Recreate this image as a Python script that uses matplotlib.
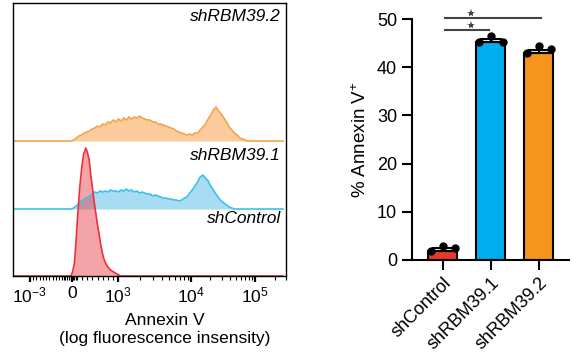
import numpy as np
import matplotlib
matplotlib.use("Agg")
import matplotlib.pyplot as plt
import matplotlib.transforms as mtransforms

plt.rcParams["font.family"] = ["Liberation Sans", "DejaVu Sans"]
plt.rcParams["mathtext.fontset"] = "custom"
plt.rcParams["mathtext.rm"] = "Liberation Sans"
plt.rcParams["mathtext.it"] = "Liberation Sans:italic"

# ---- histogram data (channel 0-1024, counts) ----
hist_x = [0, 220, 230, 240, 250, 260, 270, 280, 290, 300, 310, 320, 330, 340, 350,
          360, 370, 380, 390, 400, 410, 420, 430, 440, 450, 460, 470, 480, 490, 500,
          510, 520, 530, 540, 550, 560, 570, 580, 590, 600, 610, 620, 630, 640, 650,
          660, 670, 680, 690, 700, 710, 720, 730, 740, 750, 760, 770, 780, 790, 800,
          810, 820, 830, 840, 850, 860, 870, 880, 890, 900, 1024]
orange_y = [0, 0, 1, 3, 5, 6, 8, 9, 10, 12, 13, 15, 14, 17, 16,
            19, 18, 21, 19, 22, 20, 23, 21, 24, 22, 24, 23, 25, 23, 22,
            21, 21, 19, 19, 17, 17, 16, 15, 14, 13, 12, 10, 9, 8, 7,
            6, 7, 6, 8, 8, 11, 14, 17, 22, 26, 31, 34, 30, 27, 23,
            19, 14, 11, 8, 6, 3, 2, 1, 0, 0, 0]
blue_y = [0, 0, 1, 3, 6, 8, 10, 11, 13, 15, 17, 16, 18, 17, 18,
          17, 19, 18, 18, 17, 19, 18, 20, 18, 19, 17, 18, 16, 17, 16,
          15, 15, 13, 14, 13, 12, 11, 11, 10, 10, 9, 9, 8, 9, 11,
          12, 16, 19, 23, 27, 32, 34, 31, 28, 23, 19, 15, 11, 8, 6,
          4, 2, 1, 0, 0, 0, 0, 0, 0, 0, 0]
red_x = [0, 220, 227, 233, 239, 245, 253, 261, 268, 276, 282, 289, 295, 301, 308,
         314, 320, 326, 333, 339, 345, 351, 360, 370, 382, 395, 408, 1024]
red_y = [0, 0, 5, 13, 34, 59, 88, 109, 122, 128, 124, 116, 101, 89, 74,
         63, 52, 43, 31, 23, 17, 13, 9, 6, 4, 2, 0, 0]
offsets = [135, 67, 0]  # orange, blue, red baselines
hist_labels = ["shRBM39.2", "shRBM39.1", "shControl"]

tick_ch = [64, 225, 397, 675, 919]
tick_labels = [r"$10^{-3}$", "0", r"$10^{3}$", r"$10^{4}$", r"$10^{5}$"]

# ---- bar data ----
groups = ["shControl", "shRBM39.1", "shRBM39.2"]
bar_vals = [1.8, 45.2, 43.0]
bar_err = [0.6, 0.6, 0.6]
reps = [[1.9, 2.9, 2.4], [45.3, 46.5, 45.3], [42.9, 44.3, 43.7]]
rep_dx = [-0.25, 0.0, 0.26]
bar_colors = ["#e8392c", "#00aeef", "#f7941d"]

fig = plt.figure(figsize=(5.82, 3.6), dpi=100)

# ---------------- histogram ----------------
ax1 = fig.add_axes([0.0223, 0.2333, 0.4691, 0.7583])
ax1.fill_between(hist_x, offsets[0], np.add(orange_y, offsets[0]), color="#fbcb9c", lw=0)
ax1.plot(hist_x, np.add(orange_y, offsets[0]), color="#f5a24c", lw=1.2)
ax1.fill_between(hist_x, offsets[1], np.add(blue_y, offsets[1]), color="#a7dcf3", lw=0)
ax1.plot(hist_x, np.add(blue_y, offsets[1]), color="#3cc0ee", lw=1.2)
ax1.fill_between(red_x, offsets[2], np.add(red_y, offsets[2]), color="#e8333c", alpha=0.45, lw=0)
ax1.plot(red_x, np.add(red_y, offsets[2]), color="#e8333c", lw=1.2)

ax1.set_xlim(0, 1024)
ax1.set_ylim(0, 273)
ax1.set_yticks([])
for s in ax1.spines.values():
    s.set_linewidth(1.0)

ax1.set_xticks(tick_ch)
ax1.set_xticklabels(tick_labels, fontsize=12.5)
shift = mtransforms.ScaledTranslation(3 / 72, 0, fig.dpi_scale_trans)
for lab in ax1.get_xticklabels():
    lab.set_transform(lab.get_transform() + shift)

# minor ticks (biexponential-style axis)
minor = list(np.linspace(tick_ch[0], 175, 10)) + list(np.linspace(185, 240, 9))
minor += list(np.linspace(tick_ch[1], tick_ch[2], 10)[1:-1])
for a, b in [(tick_ch[2], tick_ch[3]), (tick_ch[3], tick_ch[4])]:
    minor += [a + (b - a) * np.log10(k) for k in range(2, 10)]
minor += [tick_ch[4] + (tick_ch[4] - tick_ch[3]) * np.log10(k) for k in range(2, 4)]
ax1.set_xticks(minor, minor=True)
ax1.tick_params(axis="x", which="major", length=4, width=1.6, pad=3)
ax1.tick_params(axis="x", which="minor", length=3, width=0.8)

ax1.set_xlabel("Annexin V\n(log fluorescence insensity)", fontsize=12.5, linespacing=1.3)
ax1.xaxis.set_label_coords(0.557, -0.135, transform=ax1.transAxes)
ax1.xaxis.label.set_va("top")

for lab, yy in zip(hist_labels, [0.949, 0.443, 0.212]):
    ax1.text(0.982, yy, lab, transform=ax1.transAxes, ha="right", va="center",
             fontsize=12.5, style="italic")

# ---------------- bar chart ----------------
ax2 = fig.add_axes([0.7074, 0.2778, 0.2698, 0.6694])
xpos = np.arange(len(groups))
ax2.bar(xpos, bar_vals, width=0.6, color=bar_colors, edgecolor="black", linewidth=1.5, zorder=2)
ax2.errorbar(xpos, bar_vals, yerr=[np.zeros(3), bar_err], fmt="none", ecolor="black",
             elinewidth=1.5, capsize=8, capthick=1.5, zorder=3)
for i, r in enumerate(reps):
    ax2.plot(xpos[i] + np.array(rep_dx), r, "o", color="black", ms=5, zorder=4, clip_on=False)

ax2.set_xlim(-0.646, 2.625)
ax2.set_ylim(0, 50)
ax2.set_yticks([0, 10, 20, 30, 40, 50])
ax2.spines["top"].set_visible(False)
ax2.spines["right"].set_visible(False)
ax2.spines["left"].set_linewidth(1.5)
ax2.spines["bottom"].set_linewidth(1.5)
ax2.tick_params(axis="both", length=7, width=1.5, labelsize=13)
ax2.set_xticks(xpos)
ax2.set_xticklabels(groups, rotation=45, ha="right", rotation_mode="anchor", fontsize=13)
ax2.set_ylabel("% Annexin V$^{+}$", fontsize=13.5, labelpad=5)

# significance brackets
sig = [(0.04, 2.05, 50.3), (0.04, 0.96, 47.7)]
for x0, x1, yy in sig:
    ax2.plot([x0, x1], [yy, yy], color="#444444", lw=1.5, clip_on=False)
    ax2.plot([0.58], [yy + 1.0], marker="*", ms=6, color="#444444", mew=0, clip_on=False)

fig.savefig("out.png", dpi=100)
